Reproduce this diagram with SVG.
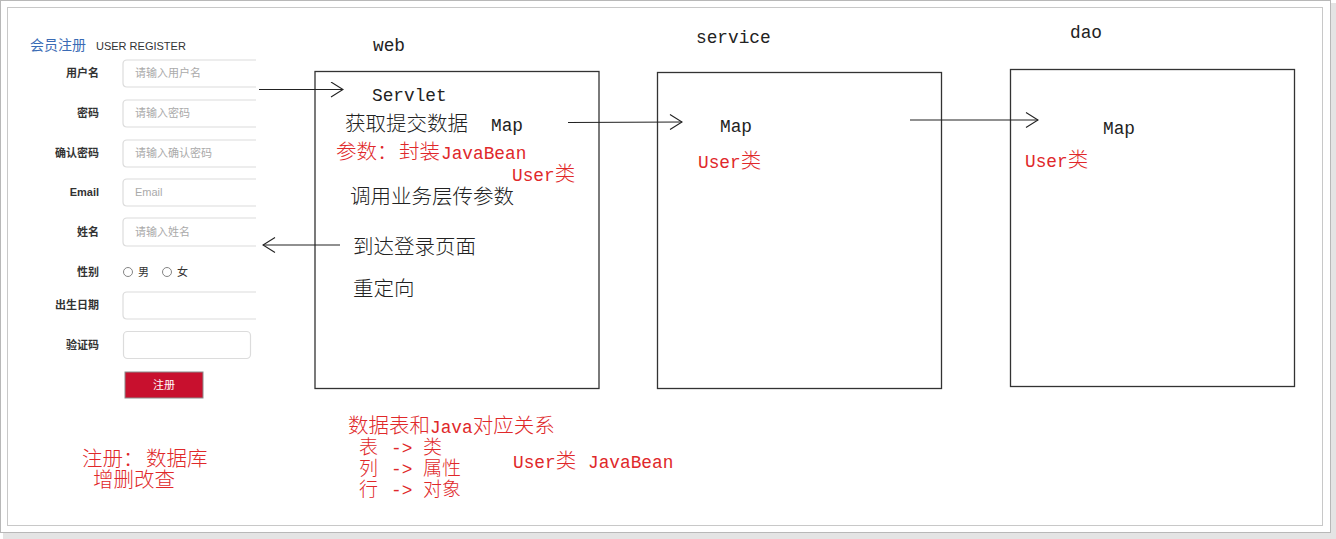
<svg xmlns="http://www.w3.org/2000/svg" width="1336" height="539" viewBox="0 0 1336 539">
<style>
.t{font-family:"Liberation Mono","Noto Sans CJK SC",monospace;font-size:20.5px;fill:#222;font-weight:300}
.r{fill:#e0282a}
.l{font-size:17.8px;font-weight:400}
.s{font-size:19px}
.box{fill:none;stroke:#333;stroke-width:1.3}
.lbl{font-family:"Liberation Sans","Noto Sans CJK SC",sans-serif;font-size:11px;font-weight:bold;fill:#333;text-anchor:end}
.ph{font-family:"Liberation Sans","Noto Sans CJK SC",sans-serif;font-size:11px;fill:#aaa}
.inp{fill:#fff;stroke:#dcdcdc;stroke-width:1.2}
.conn{stroke:#222;stroke-width:1.1;fill:none}
</style>
<defs>
<marker id="arr" viewBox="0 0 16 16" refX="15" refY="8" markerWidth="16" markerHeight="16" markerUnits="userSpaceOnUse" orient="auto">
<path d="M3,0.5 L15,8 L3,15.5" fill="none" stroke="#222" stroke-width="1.1"/>
</marker>
</defs>
<g id="frame">
<rect x="3" y="3" width="1333" height="536" fill="#e4e4e4"/>
<rect x="0.5" y="0.5" width="1330" height="532" fill="#fff" stroke="#b8b8b8"/>
<rect x="7.5" y="7.5" width="1315" height="518" fill="#fff" stroke="#c8c8c8"/>
</g>
<g id="form">
<text x="30" y="50" font-family="'Noto Sans CJK SC',sans-serif" font-size="14" fill="#3a6bb5">会员注册</text>
<text x="96" y="50" font-family="'Liberation Sans',sans-serif" font-size="11" fill="#333">USER REGISTER</text>
<text class="lbl" x="99" y="77">用户名</text>
<text class="lbl" x="99" y="117">密码</text>
<text class="lbl" x="99" y="157">确认密码</text>
<text class="lbl" x="99" y="196">Email</text>
<text class="lbl" x="99" y="236">姓名</text>
<text class="lbl" x="99" y="276">性别</text>
<text class="lbl" x="99" y="309">出生日期</text>
<text class="lbl" x="99" y="349">验证码</text>
<path class="inp" d="M256,60 H127 Q123,60 123,64 V83 Q123,87 127,87 H256"/>
<path class="inp" d="M256,100 H127 Q123,100 123,104 V123 Q123,127 127,127 H256"/>
<path class="inp" d="M256,140 H127 Q123,140 123,144 V163 Q123,167 127,167 H256"/>
<path class="inp" d="M256,179 H127 Q123,179 123,183 V202 Q123,206 127,206 H256"/>
<path class="inp" d="M256,218 H127 Q123,218 123,222 V242 Q123,246 127,246 H256"/>
<path class="inp" d="M256,292 H127 Q123,292 123,296 V315 Q123,319 127,319 H256"/>
<rect class="inp" x="123.5" y="331.5" width="127" height="27" rx="4"/>
<text class="ph" x="135" y="77">请输入用户名</text>
<text class="ph" x="135" y="117">请输入密码</text>
<text class="ph" x="135" y="157">请输入确认密码</text>
<text class="ph" x="135" y="196">Email</text>
<text class="ph" x="135" y="236">请输入姓名</text>
<circle cx="128" cy="272" r="4.5" fill="none" stroke="#777" stroke-width="0.9"/>
<text x="138" y="276" font-family="'Noto Sans CJK SC',sans-serif" font-size="11" fill="#333">男</text>
<circle cx="167" cy="272" r="4.5" fill="none" stroke="#777" stroke-width="0.9"/>
<text x="177" y="276" font-family="'Noto Sans CJK SC',sans-serif" font-size="11" fill="#333">女</text>
<rect x="125" y="372" width="78" height="26" fill="#c8102e" stroke="#8a8a8a" stroke-width="1"/>
<text x="164" y="389" text-anchor="middle" font-family="'Noto Sans CJK SC',sans-serif" font-size="11" fill="#fff">注册</text>
</g>
<g id="node-web">
<text class="t" x="373" y="51"><tspan class="l">web</tspan></text>
<rect class="box" x="315" y="71.5" width="284" height="317"/>
<text class="t" x="372" y="101"><tspan class="l">Servlet</tspan></text>
<text class="t" x="345" y="131">获取提交数据<tspan class="l" x="491">Map</tspan></text>
<text class="t r" x="336" y="159">参数：<tspan x="399">封装</tspan><tspan class="l" x="441">JavaBean</tspan></text>
<text class="t r" x="512" y="181"><tspan class="l">User</tspan>类</text>
<text class="t" x="350" y="204">调用业务层传参数</text>
<text class="t" x="353" y="254">到达登录页面</text>
<text class="t" x="353" y="296">重定向</text>
</g>
<g id="node-service">
<text class="t" x="696" y="43"><tspan class="l">service</tspan></text>
<rect class="box" x="657.5" y="72.5" width="284" height="316"/>
<text class="t" x="720" y="132"><tspan class="l">Map</tspan></text>
<text class="t r" x="698" y="168"><tspan class="l">User</tspan>类</text>
</g>
<g id="node-dao">
<text class="t" x="1070" y="38"><tspan class="l">dao</tspan></text>
<rect class="box" x="1010.5" y="69.5" width="284" height="317"/>
<text class="t" x="1103" y="134"><tspan class="l">Map</tspan></text>
<text class="t r" x="1025" y="167"><tspan class="l">User</tspan>类</text>
</g>
<g id="connectors">
<line class="conn" x1="259" y1="89.5" x2="343" y2="89.5" marker-end="url(#arr)"/>
<line class="conn" x1="340" y1="245" x2="263" y2="245" marker-end="url(#arr)"/>
<line class="conn" x1="568" y1="122.5" x2="682" y2="122" marker-end="url(#arr)"/>
<line class="conn" x1="910" y1="120" x2="1038" y2="120" marker-end="url(#arr)"/>
</g>
<g id="notes">
<text class="t r" x="348" y="433">数据表和<tspan class="l">Java</tspan>对应关系</text>
<text class="t r s" x="359" y="454">表<tspan class="l" x="391">-&gt;</tspan><tspan x="423">类</tspan></text>
<text class="t r s" x="359" y="475">列<tspan class="l" x="391">-&gt;</tspan><tspan x="423">属性</tspan></text>
<text class="t r s" x="359" y="496">行<tspan class="l" x="391">-&gt;</tspan><tspan x="423">对象</tspan></text>
<text class="t r" x="513" y="468"><tspan class="l">User</tspan>类<tspan class="l" x="588">JavaBean</tspan></text>
<text class="t r" x="82" y="466">注册：<tspan x="146">数据库</tspan></text>
<text class="t r" x="93" y="487">增删改查</text>
</g>
</svg>
